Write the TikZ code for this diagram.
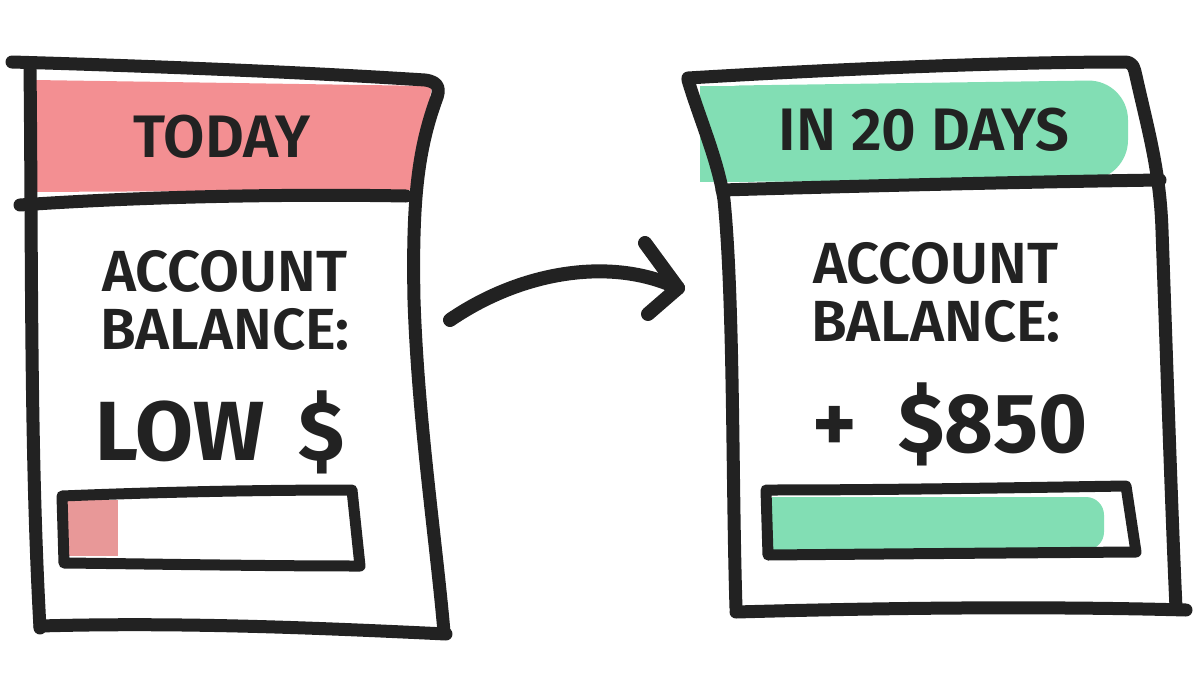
\documentclass[tikz,border=0pt]{standalone}
\usepackage{fontspec}
\setmainfont{Fira Sans}[UprightFont={* SemiBold}, BoldFont={* Bold}]
\usepackage{xcolor}
\definecolor{inkblack}{RGB}{34,34,34}
\definecolor{todaypink}{RGB}{243,143,146}
\definecolor{barpink}{RGB}{232,152,152}
\definecolor{futuregreen}{RGB}{130,222,180}
\usetikzlibrary{positioning, calc}

\begin{document}
\begin{tikzpicture}[x=1pt, y=-1pt,
    ink/.style={draw=inkblack, line width=13pt, line cap=round, line join=round},
    label/.style={inkblack, inner sep=0pt, align=center, font=\fontsize{58}{64}\selectfont},
    heading/.style={inkblack, inner sep=0pt, font=\fontsize{60}{66}\selectfont},
    amount/.style={inkblack, inner sep=0pt, font=\fontsize{84}{90}\selectfont\bfseries}]
  \fill[white] (0,0) rectangle (1200,675);
  \useasboundingbox (0,0) rectangle (1200,675);

  % --- Card 1: today ---
  \fill[todaypink] (34,80) -- (432,86) -- (414,190) -- (30,192) -- cycle;
  \draw[ink] (12,62) .. controls (150,66) and (300,72) .. (425,80)
             .. controls (440,82) and (440,90) .. (436,100)
             .. controls (418,150) and (412,200) .. (414,300)
             .. controls (418,420) and (436,540) .. (444,632);
  \draw[ink] (30,66) .. controls (32,250) and (30,450) .. (40,628);
  \draw[ink] (20,205) .. controls (150,196) and (300,194) .. (406,196);
  \draw[ink] (40,626) .. controls (180,622) and (320,628) .. (446,634);
  \node[heading] (today) at (222,137) {TODAY};
  \node[label] (bal1) at (225,300) {ACCOUNT\\[-6pt]BALANCE:};
  \node[amount] (low) at (220,432) {LOW \,\$};
  % balance bar, nearly empty
  \fill[barpink] (67,500) rectangle (118,556);
  \draw[ink, line width=11pt] (62,496) .. controls (160,492) and (260,490) .. (352,490)
        -- (360,566) .. controls (260,566) and (160,564) .. (64,563) -- cycle;

  % arrow between the cards
  \coordinate (arrowstart) at (450,320);
  \coordinate (arrowend) at (678,288);
  \draw[ink, line width=14pt] (arrowstart) .. controls (520,272) and (610,256) .. (arrowend);
  \draw[ink, line width=14pt] (645,243) -- (arrowend) -- (648,314);

  % --- Card 2: in 20 days ---
  \fill[futuregreen, rounded corners=40pt] (700,86) -- (1128,80) -- (1128,180) -- (700,182) -- cycle;
  \fill[futuregreen] (700,86) rectangle (740,182);
  \draw[ink] (688,78) .. controls (820,70) and (1000,62) .. (1124,62)
             .. controls (1134,62) and (1134,68) .. (1136,76)
             .. controls (1148,130) and (1160,170) .. (1162,230)
             .. controls (1168,400) and (1172,520) .. (1176,608);
  \draw[ink] (688,80) .. controls (700,120) and (718,160) .. (724,200)
             .. controls (734,300) and (732,480) .. (736,608);
  \draw[ink] (722,190) .. controls (860,186) and (1020,182) .. (1160,180);
  \draw[ink] (736,612) .. controls (880,608) and (1040,606) .. (1186,610);
  \node[heading] (days) at (924,130) {IN 20 DAYS};
  \node[label] (bal2) at (936,292) {ACCOUNT\\[-6pt]BALANCE:};
  \node[amount] (gain) at (950,424) {+\enspace\$850};
  % balance bar, almost full
  \fill[futuregreen, rounded corners=18pt] (772,497) rectangle (1104,550);
  \fill[futuregreen] (772,497) rectangle (1060,550);
  \draw[ink, line width=11pt] (766,490) .. controls (880,490) and (1000,488) .. (1126,486)
        -- (1136,552) .. controls (1000,553) and (880,554) .. (768,555) -- cycle;
\end{tikzpicture}
\end{document}
